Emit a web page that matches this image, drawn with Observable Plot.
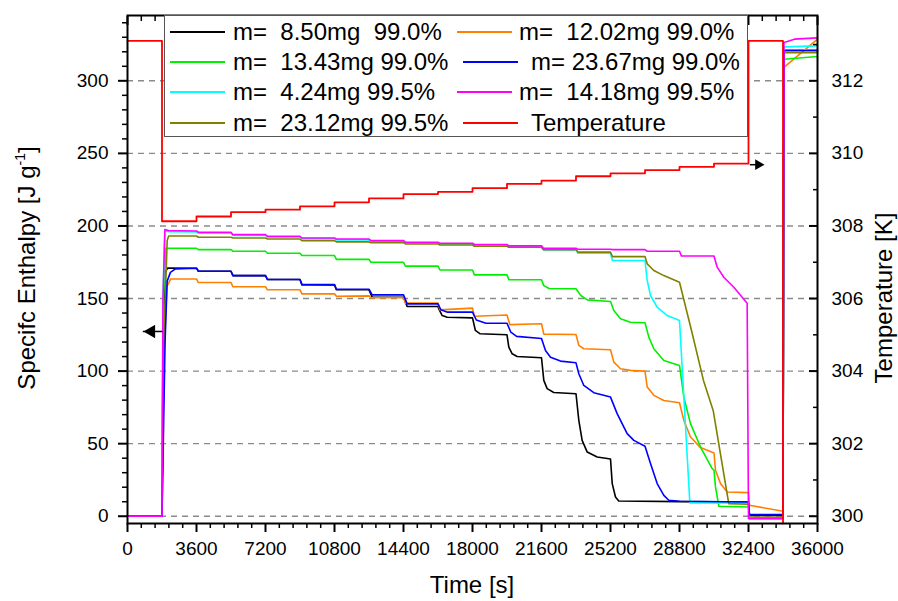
<!DOCTYPE html>
<html>
<head>
<meta charset="utf-8">
<script src="https://cdn.jsdelivr.net/npm/d3@7"></script>
<script src="https://cdn.jsdelivr.net/npm/@observablehq/plot@0.6"></script>
<style>
  body { margin: 0; background: #fff; }
  #wrap { position: relative; width: 898px; height: 601px; font-family: "Liberation Sans", Arial, sans-serif; color: #000; }
  #legend { position: absolute; left: 164px; top: 15px; width: 584px; height: 122px; box-sizing: border-box;
            border: 1.5px solid #555; background: #fff; }
  .entry { position: absolute; height: 30px; }
  .entry svg { position: absolute; left: 0; top: 0; overflow: visible; }
  .entry span { position: absolute; top: 0; font-size: 24px; line-height: 30px; white-space: pre; }
  .title { position: absolute; font-size: 24px; white-space: nowrap; line-height: 1; }
  .title sup { font-size: 14px; vertical-align: 10px; }
</style>
</head>
<body>
<div id="wrap">
  <div id="chart"></div>
  <div id="legend"></div>
  <div class="title" id="ytitle">Specifc Enthalpy [J g<sup>-1</sup>]</div>
  <div class="title" id="y2title">Temperature [K]</div>
  <div class="title" id="xtitle">Time [s]</div>
</div>
<script>
// Tick values of the three axes
const timeTicks = [0, 3600, 7200, 10800, 14400, 18000, 21600, 25200, 28800, 32400, 36000];
const enthalpyTicks = [0, 50, 100, 150, 200, 250, 300];
const tempTicks = [300, 302, 304, 306, 308, 310, 312];

// Specific enthalpy traces, [time (s), enthalpy (J/g)]
const m850 = [[0,0],[1800,0],[1850,120],[1950,168],[2100,171.0],
  [3600,170.9],[3700,168.8],[5400,168.8],[5500,165.8],[7200,165.8],[7300,163.1],[9000,163.1],[9100,159.6],
  [10800,159.4],[10900,156.0],[12600,156.0],[12765,150.9],[14400,150.9],[14590,144.5],[16200,144.5],
  [16240,142.9],[16420,138.3],[16680,137.1],[18000,136.7],[18150,128.0],[18400,125.7],[19800,125.0],
  [19895,116.5],[20070,111.9],[20330,110.1],[21600,109.2],[21720,93.6],[21895,87.9],[22240,85.3],[23400,84.4],
  [23547,66.1],[23720,52.3],[23985,44.2],[24505,40.8],[25200,39.4],[25290,22.5],[25460,13.3],[25630,10.5],
  [28800,10.1],[32400,9.8],[32450,0.8],[34200,0.8],[34250,321.1],[36000,321.1]];

const m1202 = [[0,0],[1800,0],[1900,110],[2050,158],[2250,163.5],
  [3600,163.5],[3700,161.0],[5400,161.0],[5500,158.1],[7200,158.1],[7300,156.0],[9000,156.0],[9100,153.2],
  [10800,153.2],[10900,151.6],[12600,151.8],[12700,150.5],[14400,150.5],[14500,146.8],[16200,146.8],
  [16300,142.2],[18000,143.4],[18100,137.8],[19800,138.6],[19950,132.0],[21600,132.6],[21720,125.5],
  [23400,125.2],[23547,117.7],[23807,115.4],[25200,114.7],[25374,106.2],[25722,101.6],[26243,100.5],
  [27000,100.0],[27115,89.0],[27461,83.3],[27983,79.8],[28800,78.2],[29026,66.1],[29374,54.6],[29896,47.3],
  [30600,43.6],[30678,31.7],[30939,22.5],[31287,16.7],[32400,16.3],[32450,7.6],[34200,3.4],[34250,309.2],[36000,328.7]];

const m1343 = [[0,0],[1800,0],[1880,150],[2000,184.6],
  [3600,184.6],[3700,183.7],[5400,183.7],[5500,182.6],[7200,182.6],[7300,181.2],[9000,181.2],[9100,179.6],
  [10800,179.6],[10900,177.0],[12600,177.0],[12700,175.0],[14400,175.0],[14500,172.3],[16200,172.3],
  [16300,169.7],[18000,169.7],[18100,166.3],[19800,166.3],[19900,162.9],[21600,162.9],[21720,158.9],
  [22000,156.9],[23400,156.7],[23650,152.1],[23990,149.1],[25200,148.0],[25374,141.7],[25722,136.0],
  [26243,133.7],[27000,133.3],[27200,123.4],[27461,115.4],[27983,107.3],[28800,103.9],[29026,82.1],
  [29374,63.8],[29896,47.7],[30505,32.8],[30600,31.7],[30678,20.2],[30852,6.9],[32400,6.4],[32450,-1.2],
  [34200,-1.2],[34250,314.9],[36000,316.7]];

const m2367 = [[0,0],[1800,0],[1960,120],[2070,162],[2240,168],[2500,170.4],
  [3600,170.9],[3700,168.8],[5400,168.8],[5500,165.8],[7200,165.8],[7300,163.1],[9000,163.1],[9100,159.6],
  [10800,159.6],[10900,156.4],[12600,156.4],[12765,152.5],[14400,152.5],[14590,146.3],[16200,146.3],
  [16350,142.2],[16700,140.6],[18000,140.6],[18200,135.2],[18700,133.0],[19800,133.0],[20000,126.8],
  [20300,123.9],[21600,122.5],[21808,114.2],[22069,109.6],[22590,106.9],[23400,105.7],[23547,98.2],
  [23807,90.1],[24329,85.1],[25200,82.1],[25547,70.7],[26069,56.9],[26417,52.3],[27000,48.2],[27287,36.3],
  [27635,22.5],[27983,14.4],[28244,11.0],[28800,10.3],[32400,9.8],[32450,1.2],[34200,1.2],[34250,320.7],[36000,320.7]];

const m424 = [[0,0],[1800,0],[1850,150],[1950,196.5],[2150,196.0],
  [3600,195.8],[3700,195.0],[5400,195.0],[5500,193.5],[7200,193.5],[7300,192.3],[9000,192.3],[9100,191.3],
  [10800,191.3],[10900,190.4],[12600,190.4],[12700,189.0],[14400,189.0],[14500,188.1],[16200,188.1],
  [16300,187.6],[18000,187.6],[18100,186.5],[19800,186.5],[19900,185.3],[21600,185.3],[21700,183.5],
  [23400,183.5],[23500,181.2],[25200,181.2],[25300,176.2],[27000,176.2],[27115,162.4],[27287,152.1],
  [27635,144.0],[28157,138.3],[28800,134.9],[29340,9.2],[32400,9.2],[32450,-2.0],[34200,-2.0],
  [34250,323.4],[36000,324.1]];

const m1418 = [[0,0],[1800,0],[1850,150],[1950,197.5],[2150,196.8],
  [3600,196.5],[3700,195.7],[5400,195.7],[5500,194.0],[7200,194.0],[7300,192.9],[9000,192.9],[9100,191.7],
  [10800,191.7],[10900,191.0],[12600,191.0],[12700,189.9],[14400,189.9],[14500,188.8],[16200,188.8],
  [16300,188.1],[18000,188.1],[18100,187.2],[19800,187.2],[19900,186.3],[21600,186.3],[21700,184.6],
  [23400,184.6],[23500,184.0],[25200,184.0],[25300,183.7],[27000,183.7],[27100,182.6],[28800,182.6],
  [28900,179.3],[30600,179.3],[30765,171.6],[31113,164.7],[31635,157.8],[32330,146.8],[32400,-1.6],
  [34200,-1.6],[34250,326.4],[34800,328.7],[36000,329.6]];

const m2312 = [[0,0],[1800,0],[1900,120],[2070,190],[2150,193.1],
  [3600,193.1],[3700,192.2],[5400,192.2],[5500,191.7],[7200,191.7],[7300,191.0],[9000,191.0],[9100,189.9],
  [10800,189.9],[10900,189.0],[12600,189.0],[12700,188.5],[14400,188.5],[14500,187.6],[16200,187.6],
  [16300,186.9],[18000,186.9],[18100,186.0],[19800,186.0],[19900,185.3],[21600,185.3],[21700,183.7],
  [23400,183.7],[23500,182.0],[25200,182.0],[25300,178.9],[27000,178.9],[27115,173.9],[27461,169.3],
  [27983,165.8],[28800,161.2],[29426,128.0],[30050,93.6],[30557,72.9],[31370,8.7],[32400,8.3],[32450,-0.5],
  [34200,-0.5],[34250,319.3],[36000,319.3]];

// Furnace temperature program, [time (s), temperature (K)], held until the next entry
const temperature = [[0,313.1],[1800,308.13],[3600,308.26],[5400,308.38],[7200,308.45],[9000,308.54],
  [10800,308.65],[12600,308.76],[14400,308.88],[16200,308.94],[18000,309.04],[19800,309.16],[21600,309.25],
  [23400,309.37],[25200,309.45],[27000,309.54],[28800,309.63],[30600,309.72],[32400,313.1],[34200,299.8]];

// Temperature shares the left scale: 300 K sits on 0, 2 K per 50 J/g
const toH = T => (T - 300) * 25;

const series = [
  {label: "m=  8.50mg  99.0%", color: "#000000", data: m850, col: 0, row: 0},
  {label: "m=  12.02mg 99.0%", color: "#ff8000", data: m1202, col: 1, row: 0},
  {label: "m=  13.43mg 99.0%", color: "#00f000", data: m1343, col: 0, row: 1},
  {label: "m=  4.24mg 99.5%", color: "#00ffff", data: m424, col: 0, row: 2},
  {label: "m=  23.12mg 99.5%", color: "#808000", data: m2312, col: 0, row: 3},
  {label: "m= 23.67mg 99.0%", color: "#0000ff", data: m2367, col: 1, row: 1},
  {label: "m=  14.18mg 99.5%", color: "#ff00ff", data: m1418, col: 1, row: 2}
];

const timeMinor = d3.range(0, 36001, 720).filter(t => t % 3600 !== 0);
const enthalpyMinor = d3.range(0, 341, 10).filter(h => h % 50 !== 0);
const tempMinor = d3.range(301, 314, 2);

const FONT = '"Liberation Sans", Arial, sans-serif';
const blank = () => "";

const chart = Plot.plot({
  width: 898,
  height: 601,
  marginTop: 15,
  marginRight: 81,
  marginBottom: 78,
  marginLeft: 127,
  x: {domain: [0, 36000]},
  y: {domain: [-5, 345]},
  style: {fontFamily: FONT, fontSize: "19px", color: "#000", background: "#fff", overflow: "visible"},
  marks: [
    Plot.ruleY(enthalpyTicks, {stroke: "#8a8a8a", strokeWidth: 1.4, strokeDasharray: "6 5"}),
    ...series.map(s => Plot.line(s.data, {x: d => d[0], y: d => d[1], stroke: s.color, strokeWidth: 1.6})),
    Plot.line(temperature, {x: d => d[0], y: d => toH(d[1]), curve: "step-after", stroke: "#ff0000", strokeWidth: 1.8}),
    // axis pointers
    Plot.link([[1820, 800]], {x1: d => d[0], x2: d => d[1], y1: 127.3, y2: 127.3, stroke: "#000", strokeWidth: 1.5}),
    Plot.dot([1240], {x: d => d, y: 127.3, symbol: "triangle", r: 5, fill: "#000", stroke: "none", rotate: -90}),
    Plot.link([[32470, 32900]], {x1: d => d[0], x2: d => d[1], y1: 242.2, y2: 242.2, stroke: "#000", strokeWidth: 1.5}),
    Plot.dot([32910], {x: d => d, y: 242.2, symbol: "triangle", r: 4, fill: "#000", stroke: "none", rotate: 90}),
    Plot.frame({stroke: "#000", strokeWidth: 2}),
    Plot.axisX(timeTicks, {anchor: "bottom", tickSize: 9, tickPadding: 9, strokeWidth: 2, tickFormat: d => String(d), label: null}),
    Plot.axisX(timeMinor, {anchor: "bottom", tickSize: 5, strokeWidth: 1.5, tickFormat: blank, label: null}),
    Plot.axisX(timeTicks, {anchor: "top", tickSize: -9, strokeWidth: 2, tickFormat: blank, label: null}),
    Plot.axisX(timeMinor, {anchor: "top", tickSize: -5, strokeWidth: 1.5, tickFormat: blank, label: null}),
    Plot.axisY(enthalpyTicks, {anchor: "left", tickSize: 9, tickPadding: 10, strokeWidth: 2, tickFormat: d => String(d), label: null}),
    Plot.axisY(enthalpyMinor, {anchor: "left", tickSize: 5, strokeWidth: 1.5, tickFormat: blank, label: null}),
    Plot.axisY(tempTicks.map(toH), {anchor: "right", tickSize: -9, strokeWidth: 2, tickFormat: blank, label: null}),
    Plot.axisY(tempMinor.map(toH), {anchor: "right", tickSize: -5, strokeWidth: 1.5, tickFormat: blank, label: null}),
    Plot.axisY(tempTicks.map(toH), {anchor: "right", tickSize: 0, tickPadding: 14, tickFormat: h => String(300 + h / 25), label: null})
  ]
});
document.getElementById("chart").append(chart);

// Legend box inside the plot, two columns
const legend = document.getElementById("legend");
const entries = [...series, {label: "Temperature", color: "#ff0000", col: 1, row: 3}];
for (const e of entries) {
  const shift = e.col === 1 && (e.row === 1 || e.row === 3) ? 6 : 0;
  const div = document.createElement("div");
  div.className = "entry";
  div.style.left = (e.col === 0 ? 4 : 291 + shift) + "px";
  div.style.top = (1 + e.row * 30.2) + "px";
  div.innerHTML = `<svg width="60" height="30"><line x1="1" x2="56" y1="15" y2="15" stroke="${e.color}" stroke-width="1.8"/></svg>` +
    `<span style="left:${e.col === 0 ? 64 : 63 + shift}px">${e.label}</span>`;
  legend.append(div);
}

// Axis titles
const yt = document.getElementById("ytitle");
yt.style.left = "26px"; yt.style.top = "268px";
yt.style.transform = "translate(-50%, -50%) rotate(-90deg)";
const y2t = document.getElementById("y2title");
y2t.style.left = "884px"; y2t.style.top = "298px";
y2t.style.transform = "translate(-50%, -50%) rotate(-90deg)";
const xt = document.getElementById("xtitle");
xt.style.left = "472px"; xt.style.top = "585px";
xt.style.transform = "translate(-50%, -50%)";
</script>
</body>
</html>
